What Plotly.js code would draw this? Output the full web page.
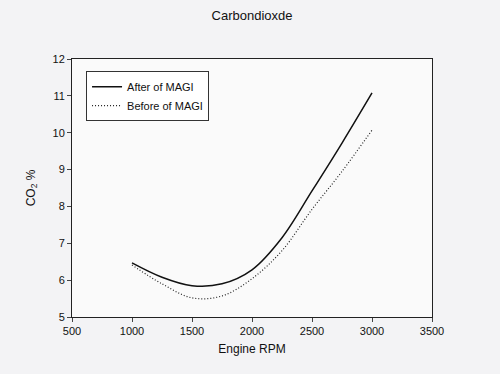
<!DOCTYPE html>
<html>
<head>
<meta charset="utf-8">
<script src="https://cdn.plot.ly/plotly-3.0.1.min.js"></script>
<style>html,body{margin:0;padding:0;background:#f3f3f5;}</style>
</head>
<body>
<div id="chart" style="width:500px;height:374px;"></div>
<script>
const rpm = [1000, 1250, 1500, 1750, 2000, 2250, 2500, 2750, 3000];
const afterMAGI = [6.47, 6.08, 5.85, 5.90, 6.28, 7.15, 8.42, 9.72, 11.08];
const beforeMAGI = [6.41, 5.90, 5.52, 5.57, 6.04, 6.80, 7.92, 8.95, 10.07];
const xTicks = [500, 1000, 1500, 2000, 2500, 3000, 3500];
const yTicks = [5, 6, 7, 8, 9, 10, 11, 12];

const font = "Liberation Sans, Arial, sans-serif";
const traces = [
  {x: rpm, y: afterMAGI, name: "After of MAGI", mode: "lines",
   line: {color: "#111111", width: 1.5, shape: "spline", smoothing: 1}},
  {x: rpm, y: beforeMAGI, name: "Before of MAGI", mode: "lines",
   line: {color: "#222222", width: 1.2, dash: "1px,2px", shape: "spline", smoothing: 1}}
];
const layout = {
  width: 500, height: 374,
  margin: {l: 72, r: 68, t: 59, b: 57},
  paper_bgcolor: "#f3f3f5",
  plot_bgcolor: "#fafafa",
  font: {family: font, size: 11, color: "#111"},
  title: {text: "Carbondioxde", font: {family: font, size: 13, color: "#111"},
          x: 0.504, xanchor: "center", y: 0.96, yanchor: "middle"},
  xaxis: {range: [500, 3500], tickvals: xTicks, ticks: "outside", ticklen: 4,
          showline: true, linecolor: "#222", linewidth: 1, mirror: true,
          showgrid: false, zeroline: false, tickfont: {size: 11},
          title: {text: "Engine RPM", font: {size: 12}, standoff: 8}},
  yaxis: {range: [5, 12], tickvals: yTicks, ticks: "outside", ticklen: 4,
          showline: true, linecolor: "#222", linewidth: 1, mirror: true,
          showgrid: false, zeroline: false, tickfont: {size: 11},
          title: {text: "CO<sub>2</sub> %", font: {size: 12}, standoff: 14}},
  legend: {x: 0.039, y: 0.953, xanchor: "left", yanchor: "top",
           bgcolor: "#ffffff", bordercolor: "#333", borderwidth: 1,
           font: {size: 11}, tracegroupgap: 0, itemwidth: 30},
  showlegend: true
};
Plotly.newPlot("chart", traces, layout, {displayModeBar: false, staticPlot: true});
</script>
</body>
</html>
